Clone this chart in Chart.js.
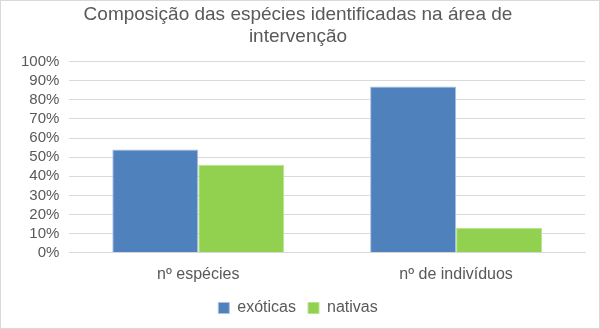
<!DOCTYPE html>
<html>
<head>
<meta charset="utf-8">
<script src="https://cdn.jsdelivr.net/npm/chart.js@4.4.1/dist/chart.umd.min.js"></script>
<style>
  body { margin: 0; background: #fff; }
  #wrap { width: 600px; height: 329px; box-sizing: border-box; border: 1px solid #d9d9d9; }
</style>
</head>
<body>
<div id="wrap"><canvas id="grafico"></canvas></div>
<script>
var categorias = ['nº espécies', 'nº de indivíduos'];
var exoticas = [54, 87];
var nativas = [46, 13];
var titulo = ['Composição das espécies identificadas na área de', 'intervenção'];

Chart.defaults.font.family = '"Liberation Sans", Arial, sans-serif';
Chart.defaults.color = '#595959';

var ctx = document.getElementById('grafico');
var grafico = new Chart(ctx, {
    type: 'bar',
    data: {
        labels: categorias,
        datasets: [
            {
                label: 'exóticas',
                backgroundColor: '#4f81bd',
                borderColor: '#a9c0e0',
                borderWidth: 1,
                data: exoticas
            },
            {
                label: 'nativas',
                backgroundColor: '#92d050',
                borderColor: '#b9e38f',
                borderWidth: 1,
                data: nativas
            }
        ]
    },
    options: {
        responsive: true,
        maintainAspectRatio: false,
        animation: false,
        layout: { padding: { left: 10, right: 14, top: 2, bottom: 2 } },
        datasets: {
            bar: { categoryPercentage: 0.667, barPercentage: 1 }
        },
        plugins: {
            title: {
                display: true,
                text: titulo,
                font: { size: 19, weight: 'normal' },
                color: '#595959',
                lineHeight: 1.08,
                padding: { top: 0, bottom: 13 }
            },
            legend: {
                position: 'bottom',
                labels: {
                    boxWidth: 11,
                    boxHeight: 11,
                    padding: 12,
                    font: { size: 16 },
                    color: '#595959'
                }
            },
            tooltip: { enabled: false }
        },
        scales: {
            x: {
                grid: { display: false },
                border: { color: '#d9d9d9' },
                ticks: { font: { size: 16 }, color: '#595959', padding: 4 }
            },
            y: {
                min: 0,
                max: 100,
                grid: { color: '#d9d9d9', drawTicks: false },
                border: { display: false },
                ticks: {
                    stepSize: 10,
                    autoSkip: false,
                    padding: 10,
                    font: { size: 15 },
                    color: '#595959',
                    callback: function (v) { return v + '%'; }
                }
            }
        }
    }
});
</script>
</body>
</html>
